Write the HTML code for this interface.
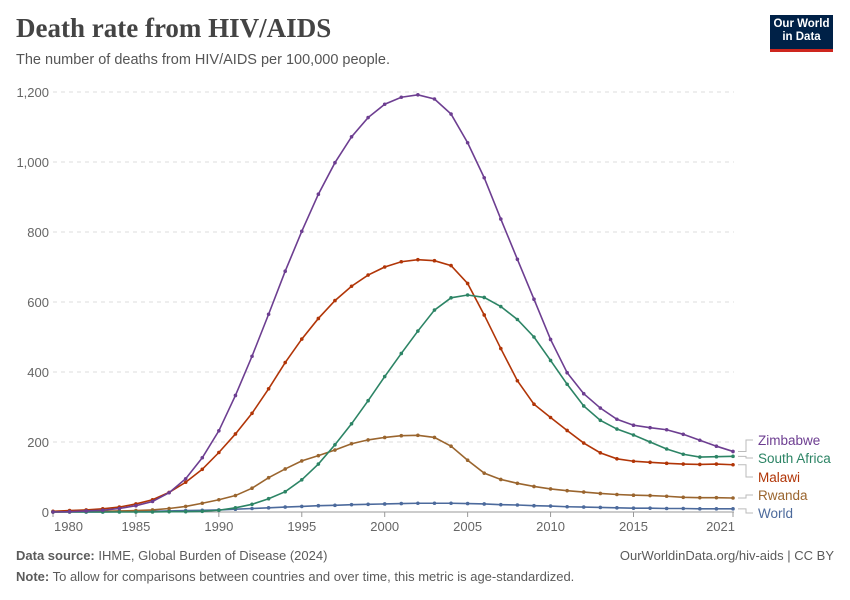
<!DOCTYPE html>
<html><head><meta charset="utf-8"><style>
body{margin:0;background:#fff;font-family:"Liberation Sans",sans-serif;}
#c{position:relative;width:850px;height:600px;overflow:hidden}
</style></head><body><div id="c">
<div style="position:absolute;left:16px;top:13px;font-family:'Liberation Serif',serif;font-size:27px;font-weight:bold;color:#444;">Death rate from HIV/AIDS</div>
<div style="position:absolute;left:16px;top:52px;font-size:14.5px;color:#555;">The number of deaths from HIV/AIDS per 100,000 people.</div>
<div style="position:absolute;left:770px;top:15px;width:63px;background:#002147;border-bottom:3px solid #ce261e;color:#fff;font-size:11.5px;font-weight:bold;line-height:13px;text-align:center;padding-top:3px;box-sizing:content-box;height:31px">Our World<br>in Data</div>
<svg id="s" width="850" height="600" style="position:absolute;left:0;top:0"></svg>
<div style="position:absolute;left:16px;top:548px;font-size:13px;color:#5b5b5b;"><b>Data source:</b> IHME, Global Burden of Disease (2024)</div>
<div style="position:absolute;right:16px;top:548px;font-size:13px;color:#5b5b5b;">OurWorldinData.org/hiv-aids | CC BY</div>
<div style="position:absolute;left:16px;top:569px;font-size:13px;color:#5b5b5b;"><b>Note:</b> To allow for comparisons between countries and over time, this metric is age-standardized.</div>
</div>
<script>
const years=[];for(let y=1980;y<=2021;y++)years.push(y);
const zimbabwe=[0,1,3,5,10,18,30,55,95,155,232,333,445,565,688,802,908,998,1072,1127,1165,1185,1192,1180,1137,1055,955,837,722,608,493,398,338,297,265,248,241,235,222,205,188,173];
const southAfrica=[0,0,0,0,0,0,0,1,1,2,5,12,22,38,58,92,137,192,252,318,387,453,517,577,612,620,613,587,550,500,433,365,303,262,237,220,200,180,165,157,158,159];
const malawi=[2,4,6,9,14,23,35,56,85,122,170,223,282,352,427,494,553,604,645,677,700,715,721,718,704,653,563,467,375,308,270,233,197,169,152,145,142,139,137,136,137,135];
const rwanda=[0,1,1,2,3,4,6,10,16,25,35,47,68,98,123,146,161,177,195,206,213,218,219,213,188,148,111,93,82,73,66,61,57,53,50,48,47,45,42,41,41,40];
const world=[0,0,0,0,1,1,2,3,4,5,6,8,10,12,14,16,18,19,21,22,23,24,25,25,25,24,23,21,20,18,17,15,14,13,12,11,11,10,10,9,9,9];
const yTicks=[0,200,400,600,800,1000,1200];
const yTickLabels=["0","200","400","600","800","1,000","1,200"];
const xTicks=[1980,1985,1990,1995,2000,2005,2010,2015,2021];
const series=[
 {name:"Zimbabwe",data:zimbabwe,color:"#6d3e91",ly:440},
 {name:"South Africa",data:southAfrica,color:"#2c8465",ly:458},
 {name:"Malawi",data:malawi,color:"#b13507",ly:477},
 {name:"Rwanda",data:rwanda,color:"#9a652e",ly:495},
 {name:"World",data:world,color:"#4c6a9c",ly:513}];
const X=y=>53+(y-1980)*(680/41), Y=v=>512-v*0.35;
const s=document.getElementById('s'),NS="http://www.w3.org/2000/svg";
function el(t,a,txt){const e=document.createElementNS(NS,t);for(const k in a)e.setAttribute(k,a[k]);if(txt!=null)e.textContent=txt;s.appendChild(e);return e;}
yTicks.forEach((v,i)=>{
 if(v>0){const g=el('line',{x1:53,x2:734,y1:Y(v),y2:Y(v),stroke:'#ddd','stroke-dasharray':'4,4'});
 
 }
 const t=el('text',{x:49,y:Y(v)+5,'text-anchor':'end','font-size':13,fill:'#666','font-family':'Liberation Sans'},yTickLabels[i]);
 
 
});
const ax=el('line',{x1:53,x2:734,y1:512,y2:512,stroke:'#999'});


xTicks.forEach((yr,i)=>{
 const tk=el('line',{x1:X(yr),x2:X(yr),y1:512,y2:517,stroke:'#999'});
 
 
 const anchor=i==0?'start':(i==xTicks.length-1?'end':'middle');
 const xx=i==0?X(yr)+1:(i==xTicks.length-1?X(yr)+2:X(yr));
 const t=el('text',{x:xx,y:531,'text-anchor':anchor,'font-size':13,fill:'#666','font-family':'Liberation Sans'},yr);
 
 
});
series.slice().reverse().forEach(sr=>{
 const pts=sr.data.map((v,i)=>X(years[i])+','+Y(v)).join(' ');
 const p=el('polyline',{points:pts,fill:'none',stroke:sr.color,'stroke-width':1.6});
 
 
 sr.data.forEach((v,i)=>{const c=el('circle',{cx:X(years[i]),cy:Y(v),r:1.8,fill:sr.color});
 
 });
 const last=Y(sr.data[sr.data.length-1]);
 const c=el('polyline',{points:`738,${last} 746,${last} 746,${sr.ly} 753,${sr.ly}`,fill:'none',stroke:'#bbb'});
 
 
 const t=el('text',{x:758,y:sr.ly+5,'font-size':13.5,fill:sr.color,'font-family':'Liberation Sans'},sr.name);
 
 
});
</script></body></html>
